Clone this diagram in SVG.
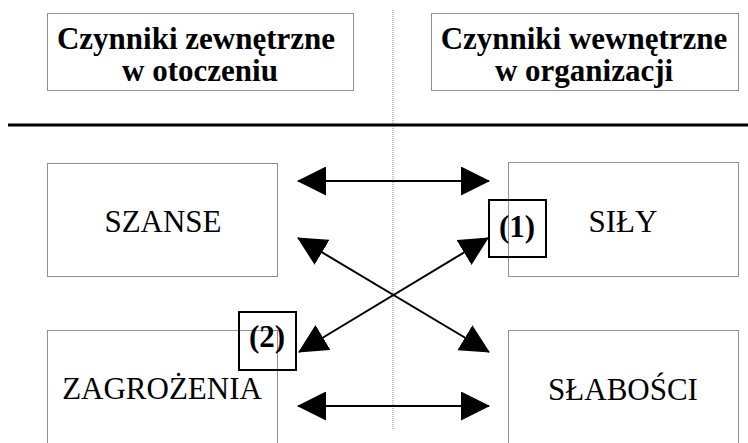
<svg xmlns="http://www.w3.org/2000/svg" width="748" height="443" viewBox="0 0 748 443">
<style>
.box{fill:none;stroke:#222;stroke-width:1;stroke-dasharray:1 1}
text{font-family:'Liberation Serif','DejaVu Serif',serif;font-size:31px;text-anchor:middle;fill:#000}
.b{font-weight:bold}
.nbox{fill:none;stroke:#000;stroke-width:2}
.arr{stroke:#000;stroke-width:2;fill:none;marker-start:url(#ah);marker-end:url(#ah)}
</style>
<defs>
<marker id="ah" viewBox="0 0 29 29" refX="28" refY="14.5" markerWidth="29" markerHeight="29" markerUnits="userSpaceOnUse" orient="auto-start-reverse">
<path d="M0,0 L29,14.5 L0,29 Z" fill="#000"/>
</marker>
</defs>
<line x1="393" y1="10" x2="393" y2="430" stroke="#888" stroke-width="1" stroke-dasharray="1 1"/>
<line x1="8" y1="125" x2="748" y2="125" stroke="#000" stroke-width="3"/>
<g id="hdr-ext">
<rect class="box" x="47.5" y="13.5" width="306" height="77"/>
<text class="b" x="196" y="49" font-family="Liberation Serif">Czynniki zewnętrzne</text>
<text class="b" x="200" y="81" font-family="Liberation Serif">w otoczeniu</text>
</g>
<g id="hdr-int">
<rect class="box" x="431.5" y="13.5" width="307" height="77"/>
<text class="b" x="584" y="49">Czynniki wewnętrzne</text>
<text class="b" x="584" y="81">w organizacji</text>
</g>
<g id="szanse">
<rect class="box" x="47.5" y="163.5" width="230" height="113"/>
<text x="163" y="232">SZANSE</text>
</g>
<g id="sily">
<rect class="box" x="508.5" y="162.5" width="230" height="114"/>
<text x="623" y="232">SIŁY</text>
</g>
<g id="zagrozenia">
<rect class="box" x="47.5" y="330.5" width="230" height="130"/>
<text x="162" y="399">ZAGROŻENIA</text>
</g>
<g id="slabosci">
<rect class="box" x="508.5" y="330.5" width="230" height="130"/>
<text x="623" y="400">SŁABOŚCI</text>
</g>
<g id="connectors">
<line class="arr" x1="298" y1="181" x2="489" y2="181"/>
<line class="arr" x1="298" y1="406" x2="489" y2="406"/>
<line class="arr" x1="298" y1="238" x2="489" y2="352"/>
<line class="arr" x1="299" y1="352" x2="488" y2="238"/>
</g>
<g id="n1">
<rect class="nbox" x="489" y="200" width="57" height="57"/>
<text class="b" x="517" y="237">(1)</text>
</g>
<g id="n2">
<rect class="nbox" x="239" y="312" width="57" height="58"/>
<text class="b" x="267" y="347">(2)</text>
</g>
</svg>
